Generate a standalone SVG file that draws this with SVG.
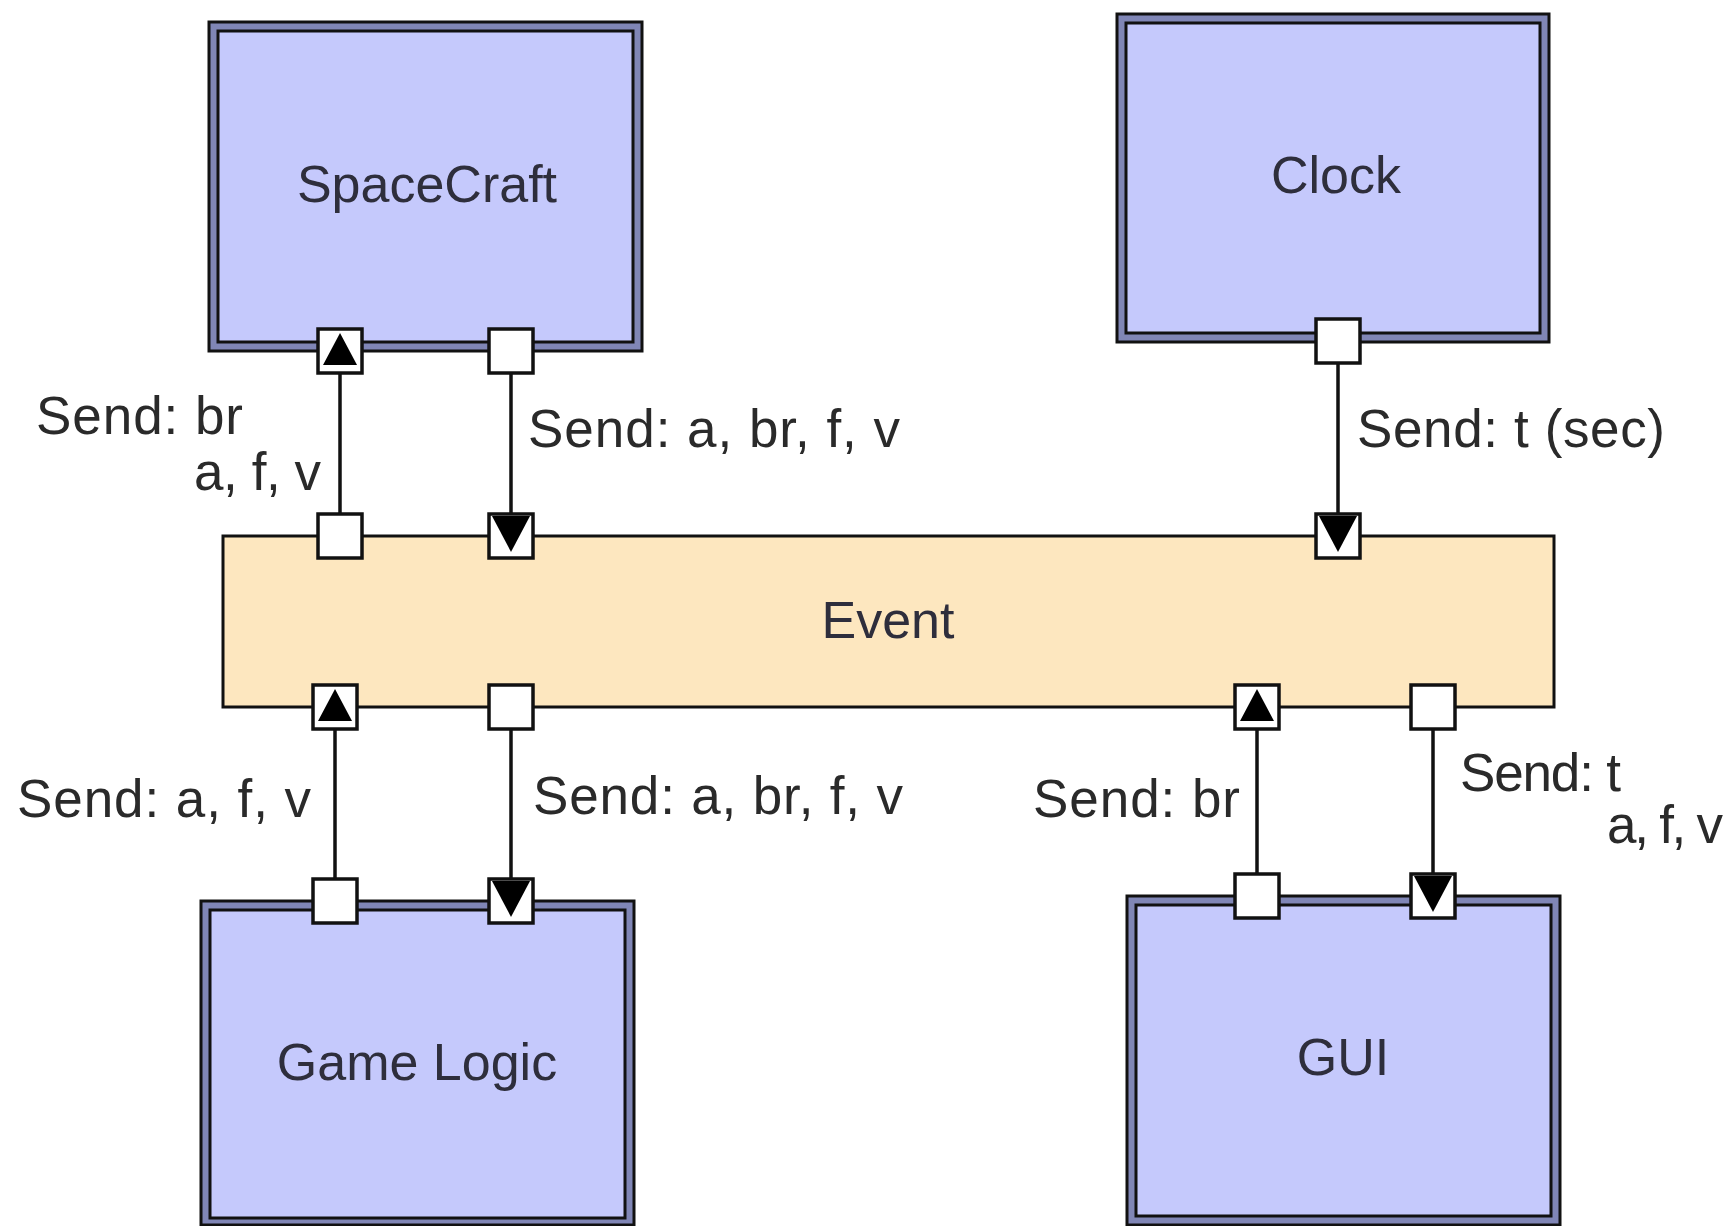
<svg xmlns="http://www.w3.org/2000/svg" xmlns:xlink="http://www.w3.org/1999/xlink" width="1731" height="1226" viewBox="0 0 1731 1226">
<style>
.outer{fill:#8086b6;stroke:#111;stroke-width:3}
.inner{fill:#c5c9fc;stroke:#111;stroke-width:3}
.event{fill:#fde7bf;stroke:#111;stroke-width:3}
.port{fill:#fff;stroke:#111;stroke-width:3.5}
.nlabel{font-family:"Liberation Sans",Arial,sans-serif;font-size:52px;fill:#2e2e3c;text-anchor:middle}
.elabel{font-family:"Liberation Sans",Arial,sans-serif;font-size:53px;fill:#2a2a2a}
.conn{stroke:#111;stroke-width:3.5;fill:none}
.arrow{fill:#000}
</style>
<defs>
<path id="up" d="M0,4 L-17,36 L17,36 Z"/>
<path id="down" d="M-19,2 L19,2 L0,38 Z"/>
</defs>
<rect width="1731" height="1226" fill="#fff"/>

<g id="spacecraft">
<rect class="outer" x="209" y="22" width="433" height="329"/>
<rect class="inner" x="218" y="31" width="415" height="311"/>
<text class="nlabel" x="427" y="202">SpaceCraft</text>
<rect class="port" x="318" y="329" width="44" height="44"/>
<rect class="port" x="489" y="329" width="44" height="44"/>
</g>

<g id="clock">
<rect class="outer" x="1117" y="14" width="432" height="328"/>
<rect class="inner" x="1126" y="23" width="414" height="310"/>
<text class="nlabel" x="1336" y="193">Clock</text>
<rect class="port" x="1316" y="319" width="44" height="44"/>
</g>

<g id="event">
<rect class="event" x="223" y="536" width="1331" height="171"/>
<text class="nlabel" x="888" y="638">Event</text>
<rect class="port" x="318" y="514" width="44" height="44"/>
<rect class="port" x="489" y="514" width="44" height="44"/>
<rect class="port" x="1316" y="514" width="44" height="44"/>
<rect class="port" x="313" y="685" width="44" height="44"/>
<rect class="port" x="489" y="685" width="44" height="44"/>
<rect class="port" x="1235" y="685" width="44" height="44"/>
<rect class="port" x="1411" y="685" width="44" height="44"/>
</g>

<g id="gamelogic">
<rect class="outer" x="201" y="901" width="433" height="324"/>
<rect class="inner" x="210" y="910" width="415" height="308"/>
<text class="nlabel" x="417" y="1080">Game Logic</text>
<rect class="port" x="313" y="879" width="44" height="44"/>
<rect class="port" x="489" y="879" width="44" height="44"/>
</g>

<g id="gui">
<rect class="outer" x="1127" y="896" width="433" height="329"/>
<rect class="inner" x="1136" y="905" width="415" height="311"/>
<text class="nlabel" x="1343" y="1075">GUI</text>
<rect class="port" x="1235" y="874" width="44" height="44"/>
<rect class="port" x="1411" y="874" width="44" height="44"/>
</g>

<g id="connectors">
<line class="conn" x1="340" y1="373" x2="340" y2="514"/>
<use href="#up" class="arrow" x="340" y="329"/>
<line class="conn" x1="511" y1="373" x2="511" y2="514"/>
<use href="#down" class="arrow" x="511" y="514"/>
<line class="conn" x1="1338" y1="363" x2="1338" y2="514"/>
<use href="#down" class="arrow" x="1338" y="514"/>
<line class="conn" x1="335" y1="729" x2="335" y2="879"/>
<use href="#up" class="arrow" x="335" y="685"/>
<line class="conn" x1="511" y1="729" x2="511" y2="879"/>
<use href="#down" class="arrow" x="511" y="879"/>
<line class="conn" x1="1257" y1="729" x2="1257" y2="874"/>
<use href="#up" class="arrow" x="1257" y="685"/>
<line class="conn" x1="1433" y1="729" x2="1433" y2="874"/>
<use href="#down" class="arrow" x="1433" y="874"/>

<text class="elabel" x="36" y="434" textLength="207" lengthAdjust="spacing">Send: br</text>
<text class="elabel" x="194" y="490" textLength="127" lengthAdjust="spacing">a, f, v</text>
<text class="elabel" x="528" y="447" textLength="372" lengthAdjust="spacing">Send: a, br, f, v</text>
<text class="elabel" x="1357" y="447" textLength="308" lengthAdjust="spacing">Send: t (sec)</text>
<text class="elabel" x="17" y="817" textLength="294" lengthAdjust="spacing">Send: a, f, v</text>
<text class="elabel" x="533" y="814" textLength="370" lengthAdjust="spacing">Send: a, br, f, v</text>
<text class="elabel" x="1033" y="817" textLength="207" lengthAdjust="spacing">Send: br</text>
<text class="elabel" x="1460" y="791" textLength="161" lengthAdjust="spacing">Send: t</text>
<text class="elabel" x="1607" y="843" textLength="116" lengthAdjust="spacing">a, f, v</text>
</g>
</svg>
